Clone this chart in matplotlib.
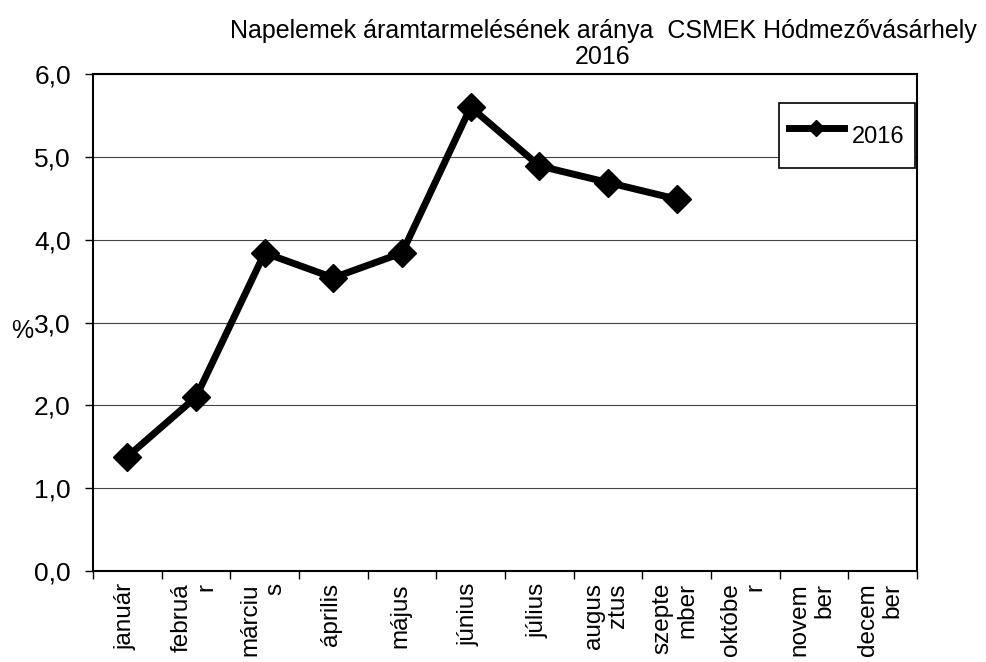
import matplotlib.pyplot as plt
from matplotlib.ticker import FuncFormatter

plt.rcParams['font.family'] = ['Liberation Sans', 'DejaVu Sans']

# month labels as they wrap on the category axis
months = ['január', 'februá\nr', 'márciu\ns', 'április', 'május', 'június',
          'július', 'augus\nztus', 'szepte\nmber', 'októbe\nr', 'novem\nber',
          'decem\nber']
# share of solar production in %, January–September 2016
share_2016 = [1.38, 2.10, 3.84, 3.54, 3.84, 5.60, 4.89, 4.69, 4.49]

fig = plt.figure(figsize=(9.87, 6.62), dpi=100)
ax = fig.add_axes([93 / 987, 1 - 571 / 662, 824 / 987, 497 / 662])

x = list(range(len(share_2016)))
ax.plot(x, share_2016, color='black', linewidth=5, marker='D',
        markersize=14, label='2016', zorder=3)

ax.set_xlim(-0.5, len(months) - 0.5)
ax.set_ylim(0, 6)
ax.set_yticks([0, 1, 2, 3, 4, 5, 6])
ax.yaxis.set_major_formatter(FuncFormatter(lambda v, p: f'{v:.1f}'.replace('.', ',')))
ax.tick_params(axis='y', labelsize=19, length=6, width=1, pad=10)
ax.grid(axis='y', color='#444444', linewidth=0.8)
ax.set_axisbelow(True)

# category ticks sit between months, labels sit at month centres
ax.set_xticks([i - 0.5 for i in range(len(months) + 1)])
ax.set_xticklabels([])
ax.tick_params(axis='x', length=6, width=1)
for i, m in enumerate(months):
    ax.annotate(m, xy=(i, 0), xycoords=('data', 'axes fraction'),
                xytext=(-2, -12), textcoords='offset pixels',
                rotation=90, ha='center', va='top', multialignment='right',
                fontsize=17.5, linespacing=1.15, annotation_clip=False)

for s in ax.spines.values():
    s.set_linewidth(1.5)
    s.set_color('black')

fig.text(11 / 987, 1 - 338 / 662, '%', fontsize=18, ha='left', va='baseline')

fig.text(603 / 987, 1 - 19 / 662,
         'Napelemek áramtarmelésének aránya  CSMEK Hódmezővásárhely\n2016',
         ha='center', va='top', fontsize=18, linespacing=1.1)

leg = ax.legend(loc='upper right', bbox_to_anchor=(0.9976, 0.942),
                borderaxespad=0, fontsize=17, frameon=True, fancybox=False,
                handlelength=2.3, handleheight=2.5, handletextpad=0.35,
                borderpad=0.45, markerscale=0.55)
leg.get_frame().set_edgecolor('black')
leg.get_frame().set_linewidth(1.2)
leg.get_frame().set_alpha(1)

fig.savefig('out.png', dpi=100)
